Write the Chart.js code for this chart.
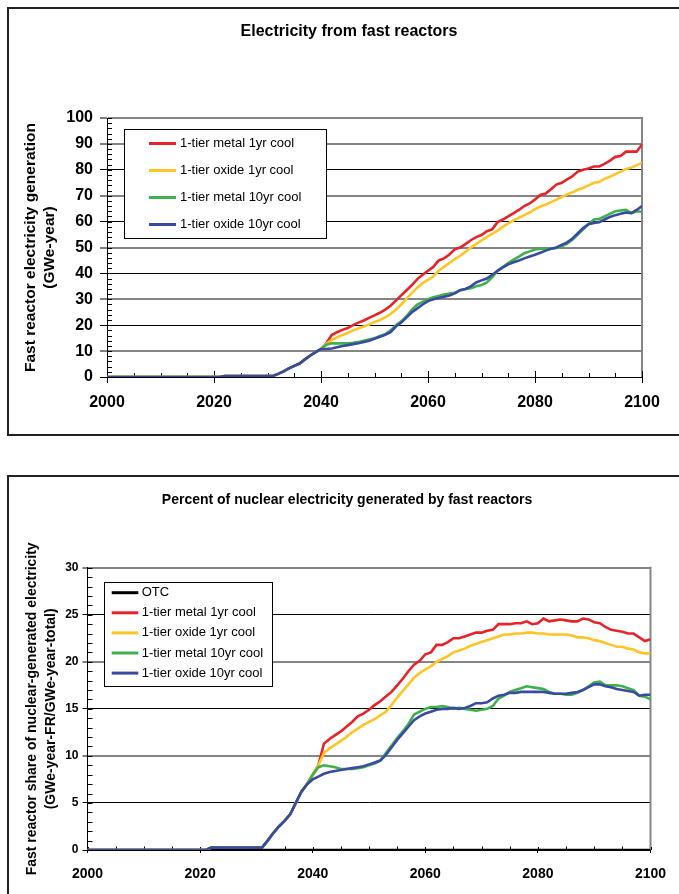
<!DOCTYPE html>
<html>
<head>
<meta charset="utf-8">
<title>Fast reactor electricity</title>
<script src="https://cdn.jsdelivr.net/npm/chart.js@4.4.1/dist/chart.umd.min.js"></script>
<style>
  html, body { margin: 0; padding: 0; background: #fff; overflow: hidden; width: 679px; height: 894px; }
  .frame { position: absolute; border: 2px solid #222; box-sizing: border-box; }
  #frameTop { left: 7px; top: 7px; width: 700px; height: 429px; }
  #frameBottom { left: 7px; top: 475px; width: 700px; height: 440px; }
  canvas { position: absolute; left: 0; }
  #chartTop { top: 0; }
  #chartBottom { top: 455px; }
</style>
</head>
<body>
<div class="frame" id="frameTop"></div>
<div class="frame" id="frameBottom"></div>
<canvas id="chartTop" width="698" height="455"></canvas>
<canvas id="chartBottom" width="698" height="439"></canvas>
<script>
// ---------- categories and tick labels ----------
const years = Array.from({ length: 101 }, (_, i) => 2000 + i);
const yearTicks = [2000, 2020, 2040, 2060, 2080, 2100];
const generationTicks = [0, 10, 20, 30, 40, 50, 60, 70, 80, 90, 100];
const shareTicks = [0, 5, 10, 15, 20, 25, 30];

const seriesNames = ['1-tier metal 1yr cool', '1-tier oxide 1yr cool', '1-tier metal 10yr cool', '1-tier oxide 10yr cool'];
const otcName = 'OTC';

// ---------- electricity from fast reactors (GWe-year) ----------
// 2000-2040, identical for all four cases
const generationStartup = [
  0, 0, 0, 0, 0, 0, 0, 0, 0, 0,
  0, 0, 0, 0, 0, 0, 0, 0, 0, 0,
  0, 0, 0.4, 0.4, 0.4, 0.4, 0.4, 0.4, 0.4, 0.4,
  0.4, 0.4, 1.2, 2.2, 3.3, 4.3, 5.2, 6.8, 8.3, 9.6,
  10.8
];
// 2041-2100
const genMetal1 = [
  13.0, 16.2, 17.3, 18.2, 18.9, 20.0, 21.0, 21.8, 22.8, 23.8,
  24.8, 26.0, 27.5, 29.5, 31.5, 33.5, 35.5, 37.8, 39.5, 41.0,
  42.5, 45.0, 45.8, 47.3, 49.3, 50.0, 51.3, 52.8, 54.0, 54.8,
  56.3, 57.0, 59.8, 60.8, 62.0, 63.3, 64.5, 66.0, 67.0, 68.5,
  70.3, 70.8, 72.5, 74.3, 75.0, 76.3, 77.5, 79.3, 80.0, 80.5,
  81.3, 81.3, 82.3, 83.5, 85.0, 85.3, 87.0, 87.0, 87.0, 89.8
];
const genOxide1 = [
  12.8, 14.3, 15.3, 16.2, 17.0, 18.0, 18.8, 19.5, 20.3, 21.2,
  22.0, 23.0, 24.3, 26.0, 28.0, 30.3, 32.5, 34.5, 36.3, 37.5,
  38.8, 41.0, 42.5, 44.0, 45.5, 46.8, 48.3, 50.0, 51.3, 52.8,
  54.0, 55.3, 56.5, 58.0, 59.3, 60.5, 61.5, 62.5, 63.5, 64.8,
  65.8, 66.5, 67.5, 68.5, 69.5, 70.5, 71.3, 72.3, 73.0, 74.0,
  75.0, 75.3, 76.5, 77.3, 78.3, 79.3, 80.3, 80.8, 81.8, 82.8
];
const genMetal10 = [
  12.5, 13.0, 13.0, 13.0, 13.0, 13.2, 13.5, 14.0, 14.5, 15.0,
  15.8, 16.5, 18.0, 20.0, 21.5, 23.5, 26.0, 28.0, 29.0, 30.0,
  30.8, 31.3, 31.8, 32.2, 32.5, 33.5, 34.0, 34.3, 35.0, 35.5,
  36.5, 38.5, 41.0, 42.5, 44.0, 45.3, 46.5, 47.8, 48.5, 49.2,
  49.5, 49.5, 49.5, 49.8, 50.5, 51.5, 53.0, 55.0, 57.0, 59.0,
  60.8, 61.0, 62.0, 63.0, 64.0, 64.3, 64.5, 63.3, 64.0, 63.8
];
const genOxide10 = [
  10.8, 11.0, 11.5, 12.0, 12.3, 12.7, 13.0, 13.5, 14.0, 14.8,
  15.5, 16.3, 17.3, 19.5, 21.0, 23.0, 25.0, 26.5, 28.0, 29.3,
  30.0, 30.5, 31.0, 31.5, 32.3, 33.5, 34.0, 35.0, 36.5, 37.3,
  38.0, 39.5, 41.0, 42.3, 43.5, 44.3, 45.0, 45.8, 46.5, 47.2,
  48.0, 48.8, 49.5, 50.0, 51.0, 52.0, 53.5, 55.5, 57.5, 59.0,
  59.5, 59.8, 60.8, 61.8, 62.5, 63.0, 63.5, 63.3, 64.5, 66.0
];

// ---------- fast reactor share of nuclear electricity (%) ----------
const otcShare = [
  0, 0, 0, 0, 0, 0, 0, 0, 0, 0,
  0, 0, 0, 0, 0, 0, 0, 0, 0, 0,
  0, 0, 0, 0, 0, 0, 0, 0, 0, 0,
  0, 0, 0, 0, 0, 0, 0, 0, 0, 0,
  0, 0, 0, 0, 0, 0, 0, 0, 0, 0,
  0, 0, 0, 0, 0, 0, 0, 0, 0, 0,
  0, 0, 0, 0, 0, 0, 0, 0, 0, 0,
  0, 0, 0, 0, 0, 0, 0, 0, 0, 0,
  0, 0, 0, 0, 0, 0, 0, 0, 0, 0,
  0, 0, 0, 0, 0, 0, 0, 0, 0, 0,
  0
];
// 2000-2039, identical for all four cases
const shareStartup = [
  0, 0, 0, 0, 0, 0, 0, 0, 0, 0,
  0, 0, 0, 0, 0, 0, 0, 0, 0, 0,
  0, 0, 0.25, 0.25, 0.25, 0.25, 0.25, 0.25, 0.25, 0.25,
  0.25, 0.25, 1.0, 1.8, 2.5, 3.1, 3.8, 5.0, 6.2, 7.0
];
// 2040-2100
const shareMetal1 = [
  8.0, 9.0, 11.3, 11.8, 12.2, 12.6, 13.1, 13.6, 14.2, 14.5, 14.9,
  15.4, 15.8, 16.3, 16.8, 17.5, 18.2, 19.0, 19.7, 20.1, 20.8,
  21.0, 21.8, 21.8, 22.1, 22.5, 22.5, 22.7, 22.9, 23.1, 23.1,
  23.3, 23.4, 24.0, 24.0, 24.0, 24.1, 24.1, 24.3, 24.0, 24.1,
  24.6, 24.3, 24.4, 24.5, 24.4, 24.3, 24.3, 24.6, 24.5, 24.2,
  24.1, 23.7, 23.4, 23.3, 23.2, 23.0, 23.0, 22.6, 22.2, 22.4
];
const shareOxide1 = [
  8.0, 9.0, 10.3, 10.8, 11.2, 11.6, 12.0, 12.5, 12.9, 13.3, 13.6,
  13.9, 14.3, 14.7, 15.4, 16.2, 16.9, 17.6, 18.3, 18.8, 19.2,
  19.5, 20.0, 20.3, 20.6, 21.0, 21.2, 21.4, 21.7, 21.9, 22.1,
  22.3, 22.5, 22.7, 22.9, 22.9, 23.0, 23.0, 23.1, 23.1, 23.0,
  23.0, 22.9, 22.9, 22.9, 22.9, 22.8, 22.6, 22.6, 22.5, 22.3,
  22.2, 22.0, 21.8, 21.6, 21.6, 21.4, 21.3, 21.0, 20.9, 20.9
];
const shareMetal10 = [
  8.0, 8.8, 9.0, 8.9, 8.8, 8.6, 8.6, 8.6, 8.7, 8.8, 9.0,
  9.2, 9.5, 10.3, 11.1, 11.9, 12.6, 13.4, 14.4, 14.7, 15.0,
  15.2, 15.2, 15.3, 15.2, 15.0, 15.1, 15.0, 14.9, 14.8, 14.9,
  15.0, 15.3, 16.1, 16.4, 16.8, 17.0, 17.2, 17.4, 17.3, 17.2,
  17.1, 16.8, 16.6, 16.6, 16.5, 16.5, 16.7, 17.0, 17.4, 17.8,
  17.9, 17.5, 17.5, 17.5, 17.4, 17.2, 17.0, 16.4, 16.3, 16.0
];
const shareOxide10 = [
  7.5, 7.8, 8.1, 8.3, 8.4, 8.5, 8.6, 8.7, 8.8, 8.9, 9.1,
  9.3, 9.5, 10.1, 10.9, 11.7, 12.4, 13.1, 13.8, 14.2, 14.5,
  14.7, 14.9, 15.0, 15.0, 15.1, 15.0, 15.1, 15.3, 15.6, 15.6,
  15.7, 16.1, 16.4, 16.5, 16.7, 16.7, 16.8, 16.8, 16.8, 16.8,
  16.8, 16.7, 16.6, 16.6, 16.6, 16.7, 16.8, 17.0, 17.3, 17.6,
  17.6, 17.4, 17.3, 17.1, 17.0, 16.9, 16.8, 16.4, 16.5, 16.5
];

// ---------- styling ----------
const seriesColors = ['#E52329', '#FFC425', '#3DB24A', '#3A4AA0'];
const GRAY = '#858585';
Chart.defaults.font.family = '"Liberation Sans", Arial, Helvetica, sans-serif';
Chart.defaults.color = '#000';

const pairUp = (values) => values.map((v, i) => ({ x: years[i], y: v }));

function lineSet(label, values, color, order) {
  return {
    label, data: pairUp(values), borderColor: color, backgroundColor: color,
    borderWidth: 2.6, pointRadius: 0, tension: 0, fill: false, order
  };
}

// Chart heading, centred on the framed panel
const heading = {
  id: 'heading',
  afterDraw(chart, args, o) {
    const ctx = chart.ctx;
    ctx.save();
    ctx.font = o.font;
    ctx.fillStyle = '#000';
    ctx.textAlign = 'center';
    ctx.textBaseline = 'middle';
    ctx.fillText(o.text, o.x, o.y);
    ctx.restore();
  }
};

// Plot frame edge and the small inside tick marks
const axisDetails = {
  id: 'axisDetails',
  beforeDatasetsDraw(chart, args, o) {
    const { ctx, chartArea: a, scales: { x, y } } = chart;
    ctx.save();
    ctx.strokeStyle = GRAY;
    ctx.lineWidth = 2;
    ctx.beginPath();
    ctx.moveTo(a.right, a.top - 1);
    ctx.lineTo(a.right, a.bottom);
    ctx.stroke();

    ctx.strokeStyle = '#000';
    ctx.lineWidth = 1;
    ctx.beginPath();
    for (let v = y.min; v <= y.max + 1e-9; v += o.yMinor) {
      const py = Math.round(y.getPixelForValue(v)) + 0.5;
      ctx.moveTo(a.left, py);
      ctx.lineTo(a.left + o.yMinorLen, py);
    }
    for (let v = x.min; v <= x.max; v += o.xMinor) {
      const px = Math.round(x.getPixelForValue(v)) + 0.5;
      const len = yearTicks.includes(v) ? o.xMajorIn : o.xMinorLen;
      ctx.moveTo(px, a.bottom);
      ctx.lineTo(px, a.bottom - len);
    }
    ctx.stroke();
    ctx.restore();
  }
};

// Boxed legend placed inside the plot
const boxLegend = {
  id: 'boxLegend',
  afterDatasetsDraw(chart, args, o) {
    const ctx = chart.ctx;
    ctx.save();
    ctx.fillStyle = '#fff';
    ctx.fillRect(o.left, o.top, o.width, o.height);
    ctx.strokeStyle = '#000';
    ctx.lineWidth = 1;
    ctx.strokeRect(Math.round(o.left) + 0.5, Math.round(o.top) + 0.5, o.width, o.height);
    ctx.font = o.font;
    ctx.textAlign = 'left';
    ctx.textBaseline = 'middle';
    chart.data.datasets.forEach((ds, i) => {
      const yy = o.firstRow + i * o.rowGap;
      ctx.strokeStyle = ds.borderColor;
      ctx.lineWidth = 3;
      ctx.beginPath();
      ctx.moveTo(o.sampleX, yy);
      ctx.lineTo(o.sampleX + o.sampleLen, yy);
      ctx.stroke();
      ctx.fillStyle = '#000';
      ctx.fillText(ds.label, o.textX, yy);
    });
    ctx.restore();
  }
};

function axes(cfg) {
  return {
    x: {
      type: 'linear', min: 2000, max: 2100,
      afterBuildTicks: (s) => { s.ticks = yearTicks.map((v) => ({ value: v })); },
      afterFit: (s) => { s.height = cfg.xHeight; },
      grid: { drawOnChartArea: false, drawTicks: true, tickLength: cfg.xTickLen, tickColor: '#000', tickWidth: 1 },
      border: { display: true, color: '#000', width: 1 },
      ticks: {
        autoSkip: false, maxRotation: 0, padding: cfg.xPad, color: '#000',
        font: { size: cfg.xFont, weight: 'bold' },
        callback: (v) => String(v)
      }
    },
    y: {
      type: 'linear', min: cfg.yTicks[0], max: cfg.yTicks[cfg.yTicks.length - 1],
      afterBuildTicks: (s) => { s.ticks = cfg.yTicks.map((v) => ({ value: v })); },
      afterFit: (s) => { s.width = cfg.yWidth; },
      grid: {
        drawOnChartArea: true, drawTicks: true, tickLength: cfg.yTickLen,
        tickColor: '#000', tickWidth: 1,
        color: (c) => (c.tick && cfg.grayLine(c.tick.value) ? GRAY : '#000'),
        lineWidth: (c) => (c.tick && cfg.grayLine(c.tick.value) ? 2 : 1)
      },
      border: { display: true, color: '#000', width: 1 },
      ticks: {
        padding: cfg.yPad, color: '#000',
        font: { size: cfg.yFont, weight: 'bold' },
        callback: (v) => String(v)
      },
      title: {
        display: true, text: cfg.yTitle, color: '#000',
        font: { size: cfg.yTitleFont, weight: 'bold', lineHeight: cfg.yTitleLH },
        padding: { top: cfg.yTitlePad, bottom: 0 }
      }
    }
  };
}

// ---------- chart 1: generation ----------
new Chart(document.getElementById('chartTop'), {
  type: 'line',
  data: {
    datasets: [
      lineSet(seriesNames[0], generationStartup.concat(genMetal1), seriesColors[0], 4),
      lineSet(seriesNames[1], generationStartup.concat(genOxide1), seriesColors[1], 3),
      lineSet(seriesNames[2], generationStartup.concat(genMetal10), seriesColors[2], 2),
      lineSet(seriesNames[3], generationStartup.concat(genOxide10), seriesColors[3], 1)
    ]
  },
  options: {
    responsive: false, animation: false, events: [],
    layout: { padding: { left: 0, right: 56, top: 118, bottom: 38 } },
    scales: axes({
      xHeight: 40, xTickLen: 6, xPad: 10, xFont: 16,
      yTicks: generationTicks, yWidth: 107, yTickLen: 7, yPad: 7, yFont: 16,
      grayLine: (v) => v % 20 === 10 || v === 100,
      yTitle: ['Fast reactor electricity generation', '(GWe-year)'],
      yTitleFont: 15.5, yTitleLH: 1.22, yTitlePad: 21.5
    }),
    plugins: {
      legend: { display: false },
      tooltip: { enabled: false },
      heading: { text: 'Electricity from fast reactors', font: 'bold 16px "Liberation Sans", Arial, sans-serif', x: 349, y: 32 },
      axisDetails: { yMinor: 2, yMinorLen: 5, xMinor: 5, xMinorLen: 4, xMajorIn: 6 },
      boxLegend: {
        left: 124, top: 129, width: 202, height: 109,
        firstRow: 143.5, rowGap: 27, sampleX: 149, sampleLen: 27, textX: 180,
        font: '13px "Liberation Sans", Arial, sans-serif'
      }
    }
  },
  plugins: [heading, axisDetails, boxLegend]
});

// ---------- chart 2: share of nuclear electricity ----------
new Chart(document.getElementById('chartBottom'), {
  type: 'line',
  data: {
    datasets: [
      lineSet(otcName, otcShare, '#000000', 5),
      lineSet(seriesNames[0], shareStartup.concat(shareMetal1), seriesColors[0], 4),
      lineSet(seriesNames[1], shareStartup.concat(shareOxide1), seriesColors[1], 3),
      lineSet(seriesNames[2], shareStartup.concat(shareMetal10), seriesColors[2], 2),
      lineSet(seriesNames[3], shareStartup.concat(shareOxide10), seriesColors[3], 1)
    ]
  },
  options: {
    responsive: false, animation: false, events: [],
    layout: { padding: { left: 0, right: 47.5, top: 112.7, bottom: 16 } },
    scales: axes({
      xHeight: 28, xTickLen: 3, xPad: 13, xFont: 14,
      yTicks: shareTicks, yWidth: 87.5, yTickLen: 5, yPad: 4, yFont: 12,
      grayLine: (v) => v > 0 && v % 10 === 0,
      yTitle: ['Fast reactor share of nuclear-generated electricity', '(GWe-year-FR/GWe-year-total)'],
      yTitleFont: 14, yTitleLH: 1.3, yTitlePad: 23.4
    }),
    plugins: {
      legend: { display: false },
      tooltip: { enabled: false },
      heading: { text: 'Percent of nuclear electricity generated by fast reactors', font: 'bold 14px "Liberation Sans", Arial, sans-serif', x: 347, y: 45 },
      axisDetails: { yMinor: 1, yMinorLen: 5, xMinor: 5, xMinorLen: 3.5, xMajorIn: 3 },
      boxLegend: {
        left: 104, top: 126.7, width: 168, height: 104,
        firstRow: 137.7, rowGap: 20.1, sampleX: 111.7, sampleLen: 26.6, textX: 141.7,
        font: '13px "Liberation Sans", Arial, sans-serif'
      }
    }
  },
  plugins: [heading, axisDetails, boxLegend]
});
</script>
</body>
</html>
